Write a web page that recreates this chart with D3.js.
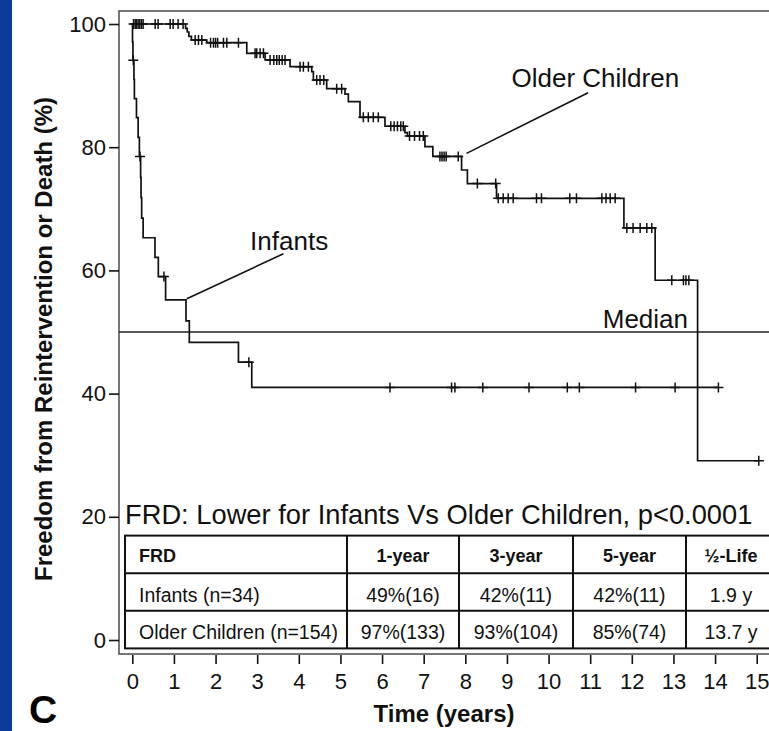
<!DOCTYPE html>
<html>
<head>
<meta charset="utf-8">
<script src="https://cdn.jsdelivr.net/npm/d3@7"></script>
<style>
  body { margin: 0; background: #fff; }
  svg { display: block; font-family: "Liberation Sans", Arial, Helvetica, sans-serif; }
</style>
</head>
<body>
<div id="chart"></div>
<script>
// ---- data ----
let xTicks = d3.range(0, 16)
let yTicks = [0, 20, 40, 60, 80, 100]

// [time (years), freedom (%)] after each event
let infantSteps = [
  [0, 100], [0.005, 97.1], [0.015, 94.1], [0.04, 91.0], [0.05, 87.9], [0.1, 84.8],
  [0.14, 81.6], [0.17, 78.5], [0.2, 75.1], [0.21, 71.8], [0.225, 68.5], [0.26, 65.3],
  [0.545, 62.1], [0.625, 59.0], [0.8, 55.2], [1.29, 51.8], [1.37, 48.3],
  [2.55, 45.1], [2.87, 41.0]
]
let infantCensored = [0.024, 0.185, 0.76, 2.8, 6.19, 7.67, 7.75, 8.42, 9.53, 10.45, 10.74, 12.09, 13.04, 14.08]
let infantEnd = 14.08

let olderSteps = [
  [0, 100], [1.28, 99.3], [1.32, 98.7], [1.36, 98.0], [1.42, 97.4], [1.79, 96.97],
  [2.75, 95.24], [3.19, 94.16], [3.79, 93.07], [4.31, 92.26], [4.35, 90.9],
  [4.67, 89.5], [5.11, 88.6], [5.19, 87.4], [5.47, 84.85], [6.07, 83.4],
  [6.55, 82.36], [6.61, 81.8], [7.03, 80.1], [7.22, 78.5], [7.91, 76.3],
  [8.05, 74.1], [8.75, 71.7], [11.81, 66.9], [12.56, 58.4], [13.58, 29.1]
]
let olderCensored = [
  0.03, 0.07, 0.1, 0.14, 0.18, 0.22, 0.26, 0.55, 0.62, 0.91, 0.98, 1.1, 1.22,
  1.51, 1.59, 1.67, 1.88, 1.95, 2.0, 2.05, 2.19, 2.27, 2.55,
  2.95, 2.99, 3.07, 3.15, 3.31, 3.4, 3.47, 3.53, 3.6, 3.67,
  4.03, 4.11, 4.23, 4.43, 4.51, 4.6, 4.91, 5.03,
  5.55, 5.67, 5.79, 5.91, 6.21, 6.29, 6.37, 6.45, 6.51,
  6.66, 6.78, 6.9, 6.99, 7.39, 7.44, 7.49, 7.54, 7.83,
  8.29, 8.73, 8.79, 8.91, 9.03, 9.15, 9.71, 9.83, 10.51, 10.67,
  11.28, 11.38, 11.48, 11.6, 11.88, 12.03, 12.2, 12.36, 12.48,
  12.96, 13.24, 13.3, 13.37, 15.05
]
let olderEnd = 15.05

let medianValue = 50

let tableTitle = 'FRD: Lower for Infants Vs Older Children, p<0.0001'
let tableHeader = ['FRD', '1-year', '3-year', '5-year', '½-Life']
let tableRows = [
  ['Infants (n=34)', '49%(16)', '42%(11)', '42%(11)', '1.9 y'],
  ['Older Children (n=154)', '97%(133)', '93%(104)', '85%(74)', '13.7 y']
]

// label text, anchor (on curve) and label end, in data units
let labels = [
  { text: 'Infants', at: [2.83, 63.3], from: [1.31, 55.4], to: [3.63, 62.7] },
  { text: 'Older Children', at: [9.11, 89.8], from: [8.03, 79.0], to: [10.95, 88.85] }
]

// ---- layout ----
let width = 769
let height = 731

let svg = d3
  .select('#chart')
  .append('svg')
  .attr('width', width)
  .attr('height', height)

let x = d3.scaleLinear().domain([0, 15]).range([132.3, 756.7])
let y = d3.scaleLinear().domain([0, 100]).range([640, 24])

let frame = { left: 119, top: 11, right: 780, bottom: 654 }

// blue strip on the left edge
svg.append('rect')
  .attr('x', 0).attr('y', 0)
  .attr('width', 12).attr('height', height)
  .attr('fill', '#0a3a9c')

// plot frame
svg.append('rect')
  .attr('x', frame.left).attr('y', frame.top)
  .attr('width', frame.right - frame.left)
  .attr('height', frame.bottom - frame.top)
  .attr('fill', 'none')
  .attr('stroke', '#555')
  .attr('stroke-width', 1.6)

// axes
let yAxis = svg.append('g')
  .attr('transform', 'translate(' + frame.left + ',0)')
  .call(d3.axisLeft(y).tickValues(yTicks).tickSize(10).tickPadding(3))
yAxis.select('.domain').remove()
yAxis.selectAll('line').attr('stroke', '#111').attr('stroke-width', 1.6)
yAxis.selectAll('text').attr('font-size', 22).attr('font-family', null).attr('fill', '#111')

let xAxis = svg.append('g')
  .attr('transform', 'translate(0,' + (frame.bottom + 1) + ')')
  .call(d3.axisBottom(x).tickValues(xTicks).tickSize(9).tickPadding(9))
xAxis.select('.domain').remove()
xAxis.selectAll('line').attr('stroke', '#111').attr('stroke-width', 1.6)
xAxis.selectAll('text').attr('font-size', 22).attr('font-family', null).attr('fill', '#111')

// axis titles
svg.append('text')
  .attr('transform', 'translate(52,339) rotate(-90)')
  .attr('text-anchor', 'middle')
  .attr('font-size', 24)
  .attr('font-weight', 'bold')
  .attr('fill', '#111')
  .text('Freedom from Reintervention or Death (%)')

svg.append('text')
  .attr('x', 444).attr('y', 722)
  .attr('text-anchor', 'middle')
  .attr('font-size', 24)
  .attr('font-weight', 'bold')
  .attr('fill', '#111')
  .text('Time (years)')

svg.append('text')
  .attr('x', 29).attr('y', 723)
  .attr('font-size', 39)
  .attr('font-weight', 'bold')
  .attr('fill', '#000')
  .text('C')

// median line
svg.append('line')
  .attr('x1', frame.left).attr('x2', frame.right)
  .attr('y1', y(medianValue)).attr('y2', y(medianValue))
  .attr('stroke', '#222')
  .attr('stroke-width', 1.6)

svg.append('text')
  .attr('x', x(13.35)).attr('y', y(50.6))
  .attr('text-anchor', 'end')
  .attr('font-size', 26)
  .attr('fill', '#111')
  .text('Median')

// survival curves
let line = d3.line()
  .x(d => x(d[0]))
  .y(d => y(d[1]))
  .curve(d3.curveStepAfter)

let bis = d3.bisector(d => d[0]).right

function drawCurve(steps, censored, end) {
  let pts = steps.concat([[end, steps[steps.length - 1][1]]])
  svg.append('path')
    .datum(pts)
    .attr('d', line)
    .attr('fill', 'none')
    .attr('stroke', '#111')
    .attr('stroke-width', 1.7)

  svg.append('g')
    .selectAll('path')
    .data(censored)
    .enter()
    .append('path')
    .attr('d', function(t) {
      let v = steps[bis(steps, t) - 1][1]
      let cx = x(t), cy = y(v)
      return 'M' + (cx - 5) + ',' + cy + 'H' + (cx + 5) + 'M' + cx + ',' + (cy - 5) + 'V' + (cy + 5)
    })
    .attr('stroke', '#111')
    .attr('stroke-width', 1.5)
}

drawCurve(olderSteps, olderCensored, olderEnd)
drawCurve(infantSteps, infantCensored, infantEnd)

// curve labels with leader lines
labels.forEach(function(l) {
  svg.append('line')
    .attr('x1', x(l.from[0])).attr('y1', y(l.from[1]))
    .attr('x2', x(l.to[0])).attr('y2', y(l.to[1]))
    .attr('stroke', '#111')
    .attr('stroke-width', 1.6)
  svg.append('text')
    .attr('x', x(l.at[0])).attr('y', y(l.at[1]))
    .attr('font-size', 26)
    .attr('fill', '#111')
    .text(l.text)
})

// summary table
svg.append('text')
  .attr('x', 125).attr('y', 524)
  .attr('font-size', 27.3)
  .attr('fill', '#111')
  .text(tableTitle)

let colEdges = [125, 347, 459, 573, 686, 776]
let rowTop = 535.6
let rowH = 37.6
let allRows = [tableHeader].concat(tableRows)

let table = svg.append('g')

table.append('rect')
  .attr('x', colEdges[0]).attr('y', rowTop)
  .attr('width', colEdges[colEdges.length - 1] - colEdges[0])
  .attr('height', rowH * allRows.length)
  .attr('fill', '#fff')
  .attr('stroke', '#111')
  .attr('stroke-width', 2)

table.selectAll('.hline')
  .data(d3.range(1, allRows.length))
  .enter()
  .append('line')
  .attr('x1', colEdges[0]).attr('x2', colEdges[colEdges.length - 1])
  .attr('y1', i => rowTop + i * rowH).attr('y2', i => rowTop + i * rowH)
  .attr('stroke', '#111')
  .attr('stroke-width', 2)

table.selectAll('.vline')
  .data(colEdges.slice(1, -1))
  .enter()
  .append('line')
  .attr('x1', d => d).attr('x2', d => d)
  .attr('y1', rowTop).attr('y2', rowTop + rowH * allRows.length)
  .attr('stroke', '#111')
  .attr('stroke-width', 2)

allRows.forEach(function(row, r) {
  row.forEach(function(cell, c) {
    let cx = c == 0 ? colEdges[0] + 14 : (colEdges[c] + colEdges[c + 1]) / 2
    table.append('text')
      .attr('x', cx)
      .attr('y', rowTop + r * rowH + rowH / 2 + (r == 0 ? 8 : 9.5))
      .attr('text-anchor', c == 0 ? 'start' : 'middle')
      .attr('font-size', r == 0 ? 18 : 19.5)
      .attr('font-weight', r == 0 ? 'bold' : 'normal')
      .attr('fill', '#111')
      .text(cell)
  })
})
</script>
</body>
</html>
